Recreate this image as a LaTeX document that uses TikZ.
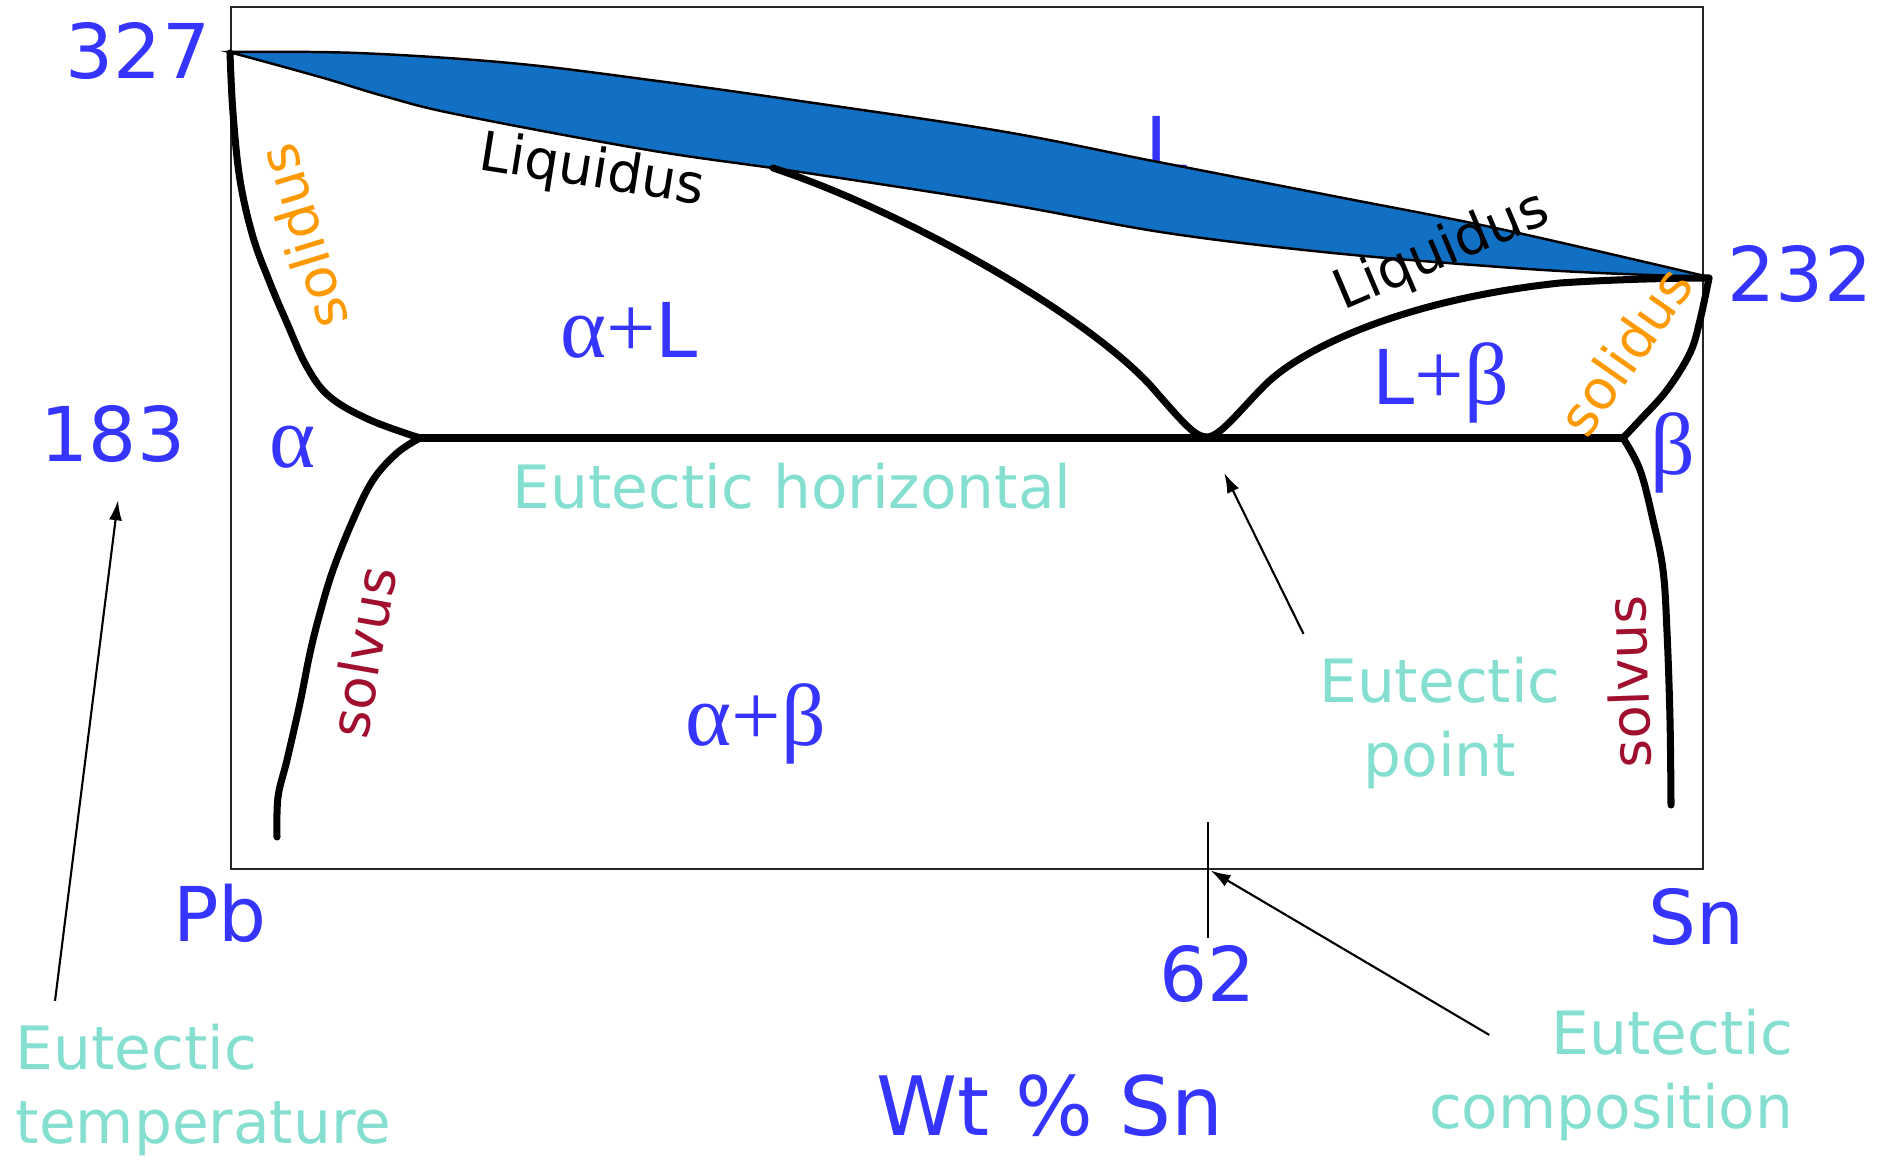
\documentclass[tikz,border=0pt]{standalone}
\usepackage{fontspec}
\setmainfont{DejaVu Sans}
\newfontfamily\grkfont{Liberation Serif}
\usetikzlibrary{arrows.meta,calc}
\definecolor{pdBlue}{HTML}{3535FF}
\definecolor{pdLens}{HTML}{1170C4}
\definecolor{pdTeal}{HTML}{84DFD1}
\definecolor{pdOrange}{HTML}{FF9900}
\definecolor{pdWine}{HTML}{A0102E}
\newcommand{\pdgrk}[1]{{\fontsize{25}{30}\selectfont\grkfont #1}}
\tikzset{
  pd frame/.style={draw=black!85, line width=0.6pt},
  pd phase/.style={draw=black, line width=2pt, line cap=round, line join=round},
  pd lens/.style={fill=pdLens, draw=black, line width=0.7pt},
  pd tick/.style={draw=black, line width=0.6pt},
  pd arrow/.style={draw=black, line width=0.6pt, -{Latex[length=2mm,width=1.3mm]}},
  pd big/.style={font=\fontsize{21.5}{26}\selectfont, text=pdBlue, inner sep=0pt},
  pd greek/.style={font=\fontsize{25}{30}\selectfont\grkfont, text=pdBlue, inner sep=0pt},
  pd note/.style={font=\fontsize{17}{21.3}\selectfont, text=pdTeal, inner sep=0pt},
  pd curve label/.style={font=\fontsize{15.5}{18}\selectfont, inner sep=0pt},
}

\begin{document}
\begin{tikzpicture}[x=0.1mm,y=-0.1mm]
  \useasboundingbox (0,0) rectangle (1895,1163);
  \fill[white] (0,0) rectangle (1895,1163);

  % liquid label, its foot hidden by the lens
  \node[pd big, anchor=base] (liquid) at (1167,172) {L};
  \filldraw[pd lens]
    plot[smooth, tension=0.6] coordinates {(229,52) (357,53) (510,63) (650,80) (800,101)
      (1000,131) (1153,161) (1333,196) (1500,229) (1709,277)}
    -- plot[smooth, tension=0.6] coordinates {(1709,277) (1600,273) (1500,267) (1333,253)
      (1167,233) (1000,203) (800,172) (648,150) (460,115) (387,97) (320,77) (229,52)}
    -- cycle;

  \draw[pd frame] (231,7) rectangle (1703,869);

  % phase boundaries
  \draw[pd phase] plot[smooth, tension=0.6] coordinates {(230,53) (233,113) (240,180) (253,237)
    (270,283) (287,323) (307,367) (330,397) (370,420) (420,438)};
  \draw[pd phase] plot[smooth, tension=0.6] coordinates {(420,438) (397,453) (373,480) (353,520)
    (333,570) (320,613) (310,653) (300,703) (287,760) (278,797) (277,837)};
  \draw[pd phase] (773,168) .. controls (900,210) and (1080,310) .. (1150,385)
    .. controls (1185,425) and (1195,437) .. (1207,437)
    .. controls (1220,437) and (1240,410) .. (1265,385)
    .. controls (1300,350) and (1400,300) .. (1560,283)
    .. controls (1620,279) and (1680,278) .. (1709,278);
  \draw[pd phase] plot[smooth, tension=0.6] coordinates {(1709,278) (1700,320) (1690,353)
    (1667,390) (1640,420) (1623,438)};
  \draw[pd phase] plot[smooth, tension=0.6] coordinates {(1623,438) (1640,470) (1653,520)
    (1663,570) (1667,632) (1670,720) (1671,805)};
  \draw[pd phase, line width=2.2pt] (420,438) -- (1623,438);

  \coordinate (eutectic) at (1207,438);
  \coordinate (tick top) at (1208,822);
  \coordinate (tick foot) at (1208,869);

  % temperatures and composition
  \node[pd big] (t327) at (138,51) {327};
  \node[pd big] (t183) at (113,434) {183};
  \node[pd big] (t232) at (1800,274) {232};
  \node[pd big] (tPb) at (220,913) {Pb};
  \node[pd big] (tSn) at (1696,917) {Sn};
  \node[pd big] (t62) at (1208,974) {62};
  \node[pd big, font=\fontsize{23.3}{28}\selectfont] (axis title) at (1050,1106) {Wt \% Sn};
  \draw[pd tick] (tick top) -- ($(t62.north)+(0,-7)$);

  % phase fields
  \node[pd big, anchor=base] (alphaL) at (629,358) {\pdgrk{α+}L};
  \node[pd big, anchor=base] (Lbeta) at (1441,405) {L\pdgrk{+β}};
  \node[pd greek, anchor=base] (alphabeta) at (756,745) {α+β};
  \node[pd greek, anchor=base] (alpha) at (293,468) {α};
  \node[pd greek, anchor=base] (beta) at (1673,475) {β};

  % curve names
  \node[pd curve label, rotate=-9] (liq left) at (592,172) {Liquidus};
  \node[pd curve label, rotate=23] (liq right) at (1442,252) {Liquidus};
  \node[pd curve label, text=pdOrange, rotate=107] (sol left) at (302,237) {solidus};
  \node[pd curve label, text=pdOrange, rotate=55] (sol right) at (1625,351) {solidus};
  \node[pd curve label, text=pdWine, rotate=80] (solv left) at (362,652) {solvus};
  \node[pd curve label, text=pdWine, rotate=92] (solv right) at (1628,682) {solvus};

  % notes
  \node[pd note, anchor=base] (eu horiz) at (792,509) {Eutectic horizontal};
  \node[pd note, align=left, anchor=west] (eu temp) at (15,1090) {Eutectic\\temperature};
  \node[pd note, align=center] (eu point) at (1440,723) {Eutectic\\point};
  \node[pd note, align=right, anchor=east] (eu comp) at (1794,1075) {Eutectic\\composition};

  \draw[pd arrow] ($(eu temp.north west)+(40,-22)$) -- ($(t183.south)+(5,37)$);
  \draw[pd arrow, shorten >=3.9mm] ($(eu point.north west)+(-15,-22)$) -- (eutectic);
  \draw[pd arrow, shorten >=0.3mm] ($(eu comp.north west)+(61,27)$) -- (tick foot);
\end{tikzpicture}
\end{document}
